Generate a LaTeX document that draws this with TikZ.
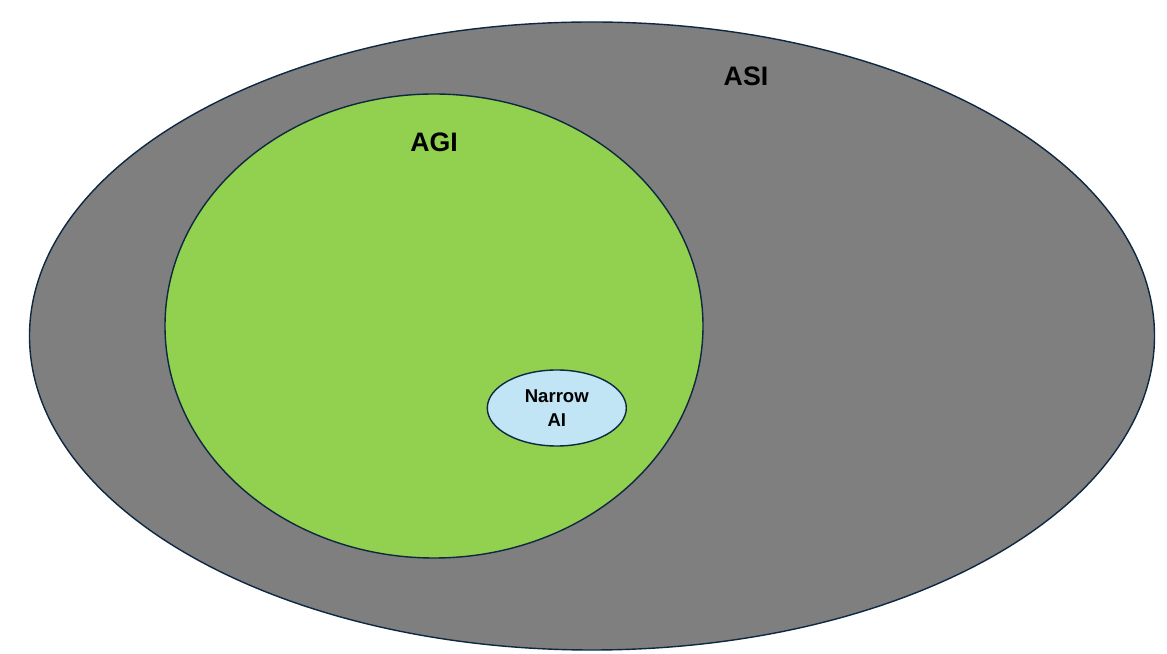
\documentclass[tikz,border=0pt]{standalone}
\usepackage{fontspec}
\setmainfont{Liberation Sans}
\usetikzlibrary{shapes.geometric,positioning}
\definecolor{asigray}{HTML}{7F7F7F}
\definecolor{agigreen}{HTML}{92D050}
\definecolor{narrowblue}{HTML}{C1E5F5}
\definecolor{edgenavy}{HTML}{0E2841}

\begin{document}
\begin{tikzpicture}[
  blob/.style={draw=edgenavy, line width=1pt, ellipse, inner sep=0pt},
  tag/.style={font=\bfseries\fontsize{19}{22}\selectfont, text=black}]
\useasboundingbox (0,0) rectangle (29.175,-16.35);

% insiemi
\node[blob, fill=asigray, minimum width=28.125cm, minimum height=15.7cm] (asi) at (14.8,-8.4) {};
\node[blob, fill=agigreen, minimum width=13.45cm, minimum height=11.6cm] (agi) at (10.85,-8.15) {};
\node[blob, fill=narrowblue, minimum width=3.475cm, minimum height=1.9cm,
  align=center, font=\bfseries\fontsize{13.2}{17}\selectfont] (narrow) at (13.92,-10.2) {Narrow\\AI};

% etichette
\node[tag] (asilabel) at (18.65,-1.9) {ASI};
\node[tag] (agilabel) at (10.85,-3.55) {AGI};
\end{tikzpicture}
\end{document}
